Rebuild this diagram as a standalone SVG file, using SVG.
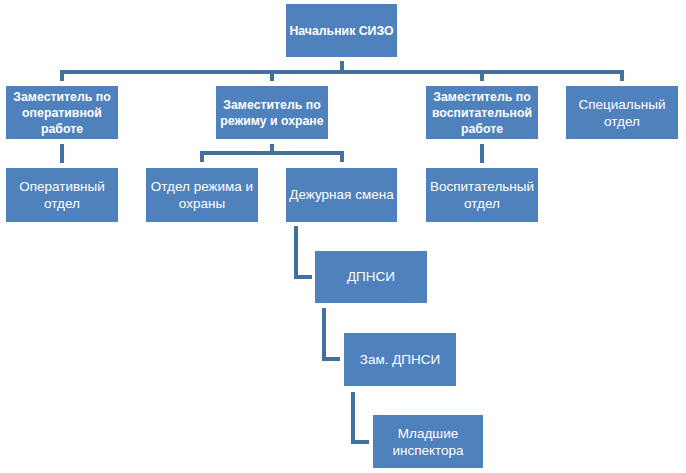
<svg xmlns="http://www.w3.org/2000/svg" width="686" height="473" viewBox="0 0 686 473">
<style>
.box{fill:#4F81BD}
.t{fill:#fff;font-family:"Liberation Sans",Arial,sans-serif;font-size:13.5px;text-anchor:middle}
.b{font-weight:bold;font-size:12.3px}
.c{fill:none;stroke:#44709F;stroke-width:4;stroke-linejoin:miter}
</style>
<rect width="686" height="473" fill="#fff"/>
<g id="connectors">
<path class="c" d="M342 61V72M62 81V72H622V81M272 72V81M482 72V81"/>
<path class="c" d="M62 144V163"/>
<path class="c" d="M272 144V153M202 162V153H342V162"/>
<path class="c" d="M482 144V163"/>
<path class="c" d="M296 226V277H312"/>
<path class="c" d="M324 308V359H340"/>
<path class="c" d="M353 392V442H369"/>
</g>
<g id="n1"><rect class="box" x="286" y="4" width="111" height="53"/><text class="t b" x="341.5" y="35">Начальник СИЗО</text></g>
<g id="n2"><rect class="box" x="6" y="86" width="112" height="53"/><text class="t b" x="62" y="101">Заместитель по</text><text class="t b" x="62" y="117">оперативной</text><text class="t b" x="62" y="133">работе</text></g>
<g id="n3"><rect class="box" x="216" y="86" width="112" height="53"/><text class="t b" x="272" y="109">Заместитель по</text><text class="t b" x="272" y="125">режиму и охране</text></g>
<g id="n4"><rect class="box" x="426" y="86" width="112" height="53"/><text class="t b" x="482" y="101">Заместитель по</text><text class="t b" x="482" y="117">воспитательной</text><text class="t b" x="482" y="133">работе</text></g>
<g id="n5"><rect class="box" x="566" y="86" width="112" height="53"/><text class="t" x="622" y="109">Специальный</text><text class="t" x="622" y="126">отдел</text></g>
<g id="n6"><rect class="box" x="6" y="168" width="112" height="54"/><text class="t" x="62" y="191">Оперативный</text><text class="t" x="62" y="208">отдел</text></g>
<g id="n7"><rect class="box" x="146" y="168" width="112" height="54"/><text class="t" x="202" y="191">Отдел режима и</text><text class="t" x="202" y="208">охраны</text></g>
<g id="n8"><rect class="box" x="286" y="168" width="111" height="54"/><text class="t" x="341.5" y="199">Дежурная смена</text></g>
<g id="n9"><rect class="box" x="426" y="168" width="112" height="54"/><text class="t" x="482" y="191">Воспитательный</text><text class="t" x="482" y="208">отдел</text></g>
<g id="n10"><rect class="box" x="315" y="251" width="112" height="52"/><text class="t" x="371" y="281">ДПНСИ</text></g>
<g id="n11"><rect class="box" x="344" y="333" width="112" height="53"/><text class="t" x="400" y="364">Зам. ДПНСИ</text></g>
<g id="n12"><rect class="box" x="373" y="415" width="110" height="53"/><text class="t" x="428" y="438">Младшие</text><text class="t" x="428" y="455">инспектора</text></g>
</svg>
